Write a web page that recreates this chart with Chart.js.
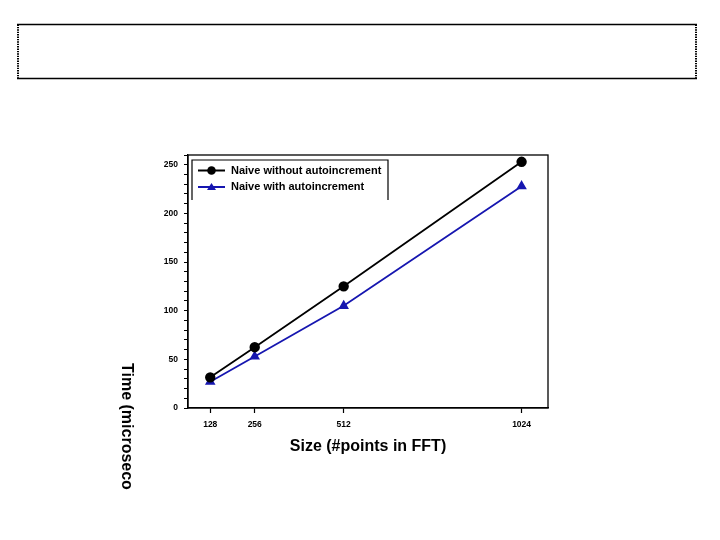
<!DOCTYPE html>
<html>
<head>
<meta charset="utf-8">
<script src="https://cdn.jsdelivr.net/npm/chart.js@4.4.1/dist/chart.umd.min.js"></script>
<style>
  html, body { margin: 0; padding: 0; background: #fff; }
  canvas { display: block; }
</style>
</head>
<body>
<canvas id="fftChart" width="720" height="540"></canvas>
<script>
// datos
const sizes = [128, 256, 512, 1024];
const naiveWithout = [31.5, 62.5, 125, 253];
const naiveWith = [27, 53, 105, 228];
const yTickLabels = [0, 50, 100, 150, 200, 250];

const seriesLabels = ['Naive without autoincrement', 'Naive with autoincrement'];
const yTitle = 'Time (microseconds)';
const xTitle = 'Size (#points in FFT)';

const FONT = '"Liberation Sans", Arial, sans-serif';
const BLUE = '#1616b0';

function toPoints(values) {
    return sizes.map((s, i) => ({ x: s, y: values[i] }));
}

// caja punteada del titulo, marco del grafico, leyenda y titulo vertical
const slidePlugin = {
    id: 'slide',
    afterDraw(chart) {
        const ctx = chart.ctx;
        const a = chart.chartArea;
        ctx.save();

        // caja vacia de titulo
        ctx.strokeStyle = '#000';
        ctx.lineWidth = 1.4;
        ctx.beginPath();
        ctx.moveTo(17, 24.5); ctx.lineTo(697, 24.5);
        ctx.moveTo(17, 78.5); ctx.lineTo(697, 78.5);
        ctx.stroke();
        ctx.lineWidth = 2;
        ctx.setLineDash([1.4, 1]);
        ctx.beginPath();
        ctx.moveTo(18, 24.5); ctx.lineTo(18, 78.5);
        ctx.moveTo(696, 24.5); ctx.lineTo(696, 78.5);
        ctx.stroke();
        ctx.setLineDash([]);

        // marco del area
        ctx.lineWidth = 1.3;
        ctx.strokeRect(a.left, a.top, a.right - a.left, a.bottom - a.top);

        // leyenda
        const lx = a.left + 4, ly = a.top + 5, lr = 388, lb = 200;
        ctx.lineWidth = 1.2;
        ctx.fillStyle = '#fff';
        ctx.fillRect(lx, ly, lr - lx, lb - ly);
        ctx.beginPath();
        ctx.moveTo(lx, lb); ctx.lineTo(lx, ly); ctx.lineTo(lr, ly); ctx.lineTo(lr, lb);
        ctx.stroke();
        chart.data.datasets.forEach((ds, i) => {
            const y = 170.5 + i * 16.5;
            ctx.strokeStyle = ds.borderColor;
            ctx.lineWidth = 2;
            ctx.beginPath();
            ctx.moveTo(198, y); ctx.lineTo(225, y);
            ctx.stroke();
            ctx.fillStyle = ds.pointBackgroundColor;
            ctx.beginPath();
            if (ds.pointStyle === 'triangle') {
                ctx.moveTo(211.5, y - 4); ctx.lineTo(216, y + 3); ctx.lineTo(207, y + 3);
                ctx.closePath();
            } else {
                ctx.arc(211.5, y, 4.3, 0, Math.PI * 2);
            }
            ctx.fill();
            ctx.fillStyle = '#000';
            ctx.font = 'bold 11px ' + FONT;
            ctx.textBaseline = 'middle';
            ctx.textAlign = 'left';
            ctx.fillText(ds.label, 231, y);
        });

        // titulo del eje y, girado y cortado como en la diapositiva
        ctx.beginPath();
        ctx.rect(100, 350, 60, 140);
        ctx.clip();
        ctx.translate(121.5, 363);
        ctx.rotate(Math.PI / 2);
        ctx.fillStyle = '#000';
        ctx.font = 'bold 16px ' + FONT;
        ctx.textBaseline = 'alphabetic';
        ctx.textAlign = 'left';
        ctx.fillText(yTitle, 0, 0);
        ctx.restore();
    }
};

const ctx = document.getElementById('fftChart').getContext('2d');
const fftChart = new Chart(ctx, {
    type: 'line',
    data: {
        datasets: [{
            label: seriesLabels[0],
            data: toPoints(naiveWithout),
            borderColor: '#000',
            backgroundColor: '#000',
            pointBackgroundColor: '#000',
            pointBorderColor: '#000',
            pointStyle: 'circle',
            pointRadius: 4.3,
            borderWidth: 1.8,
            tension: 0
        }, {
            label: seriesLabels[1],
            data: toPoints(naiveWith),
            borderColor: BLUE,
            backgroundColor: BLUE,
            pointBackgroundColor: BLUE,
            pointBorderColor: BLUE,
            pointStyle: 'triangle',
            pointRadius: 4.3,
            borderWidth: 1.8,
            tension: 0
        }]
    },
    options: {
        responsive: false,
        animation: false,
        layout: { padding: { top: 155, right: 172, left: 0, bottom: 0 } },
        plugins: {
            legend: { display: false },
            tooltip: { enabled: false }
        },
        scales: {
            x: {
                type: 'linear',
                min: 64,
                max: 1100,
                afterBuildTicks: axis => { axis.ticks = sizes.map(v => ({ value: v })); },
                afterFit: scale => { scale.height = 132; },
                grid: { drawOnChartArea: false, tickLength: 5, tickColor: '#000', tickWidth: 1.2 },
                border: { color: '#000', width: 1.3 },
                ticks: {
                    color: '#000',
                    padding: 7,
                    maxRotation: 0,
                    autoSkip: false,
                    font: { family: FONT, size: 8.5, weight: 'bold' },
                    callback: v => String(v)
                },
                title: {
                    display: true,
                    text: xTitle,
                    color: '#000',
                    font: { family: FONT, size: 16, weight: 'bold' },
                    padding: { top: 4, bottom: 84 }
                }
            },
            y: {
                min: 0,
                max: 260,
                afterFit: scale => { scale.width = 188; },
                grid: { drawOnChartArea: false, tickLength: 4, tickColor: '#000', tickWidth: 1 },
                border: { color: '#000', width: 1.3 },
                ticks: {
                    stepSize: 10,
                    autoSkip: false,
                    color: '#000',
                    padding: 6,
                    font: { family: FONT, size: 8.5, weight: 'bold' },
                    callback: v => yTickLabels.includes(v) ? String(v) : ''
                }
            }
        }
    },
    plugins: [slidePlugin]
});
</script>
</body>
</html>
